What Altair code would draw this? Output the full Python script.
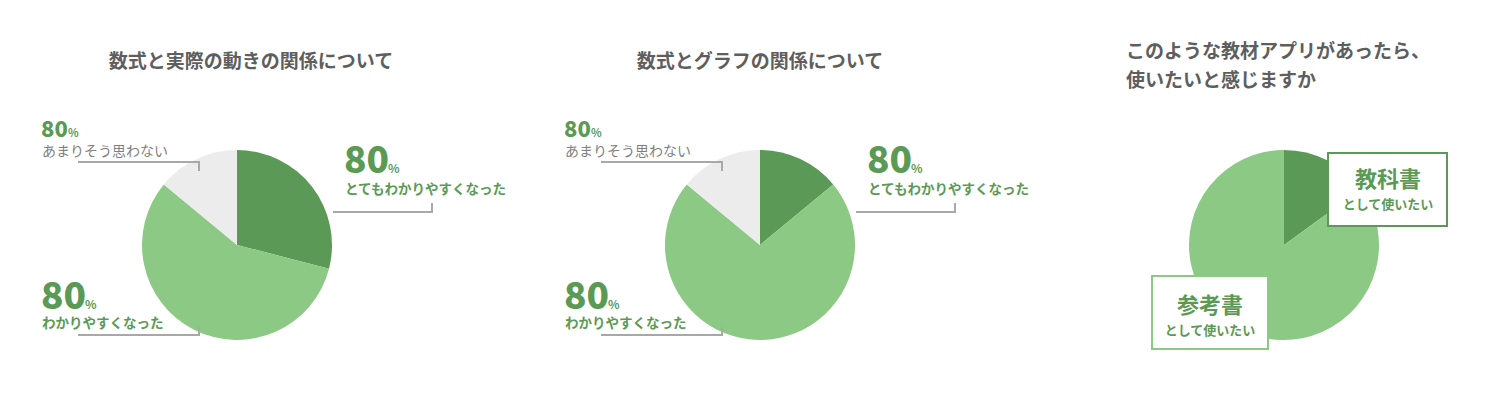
import altair as alt
import pandas as pd

# ---------------- data ----------------
titles = ["数式と実際の動きの関係について", "数式とグラフの関係について"]
title3_lines = ["このような教材アプリがあったら、", "使いたいと感じますか"]
categories12 = ["とてもわかりやすくなった", "わかりやすくなった", "あまりそう思わない"]
shares1 = [29, 57, 14]
shares2 = [14, 72, 14]
categories3 = ["教科書", "参考書"]
shares3 = [15, 85]
label_values = ["80", "80", "80"]  # top-right, bottom-left, top-left labels
percent_sign = "%"
box_sub = "として使いたい"

# ---------------- style ----------------
FONT = "Noto Sans CJK JP"
DARK = "#5b9a56"
LIGHT = "#8cc984"
GREY = "#ececec"
TXT_GREEN = "#5a9a55"
TXT_GREY = "#7f7f7f"
TITLE_C = "#5e5e5e"
LINE_C = "#a8a8a8"
R = 95
OFF = 8  # page margin

color_scale = alt.Scale(
    domain=categories12 + categories3,
    range=[DARK, LIGHT, GREY, DARK, LIGHT],
)


def one(s):
    return pd.DataFrame({"t": [s]})


def pie(cats, vals, cx, cy):
    df = pd.DataFrame({"cat": cats, "val": vals, "idx": list(range(len(cats)))})
    return alt.Chart(df).mark_arc(radius=R, strokeWidth=0).encode(
        theta=alt.Theta("val:Q", stack=True, scale=alt.Scale(domain=[0, sum(vals)])),
        order=alt.Order("idx:Q"),
        color=alt.Color("cat:N", scale=color_scale, legend=None),
        x=alt.value(cx - OFF),
        y=alt.value(cy - OFF),
    )


def txt(s, x, y, size, color, weight="bold", align="left", baseline="middle"):
    return alt.Chart(one(s)).mark_text(
        font=FONT, fontSize=size, fontWeight=weight, color=color,
        align=align, baseline=baseline,
    ).encode(text="t:N", x=alt.value(x - OFF), y=alt.value(y - OFF))


def hline(x1, x2, y, color=LINE_C, w=2):
    return alt.Chart(one("")).mark_rule(color=color, strokeWidth=w).encode(
        x=alt.value(x1 - OFF), x2=alt.value(x2 - OFF), y=alt.value(y - OFF))


def vline(x, y1, y2, color=LINE_C, w=2):
    return alt.Chart(one("")).mark_rule(color=color, strokeWidth=w).encode(
        x=alt.value(x - OFF), y=alt.value(y1 - OFF), y2=alt.value(y2 - OFF))


def box(x1, x2, y1, y2, stroke):
    return alt.Chart(one("")).mark_rect(fill="white", stroke=stroke, strokeWidth=2).encode(
        x=alt.value(x1 - OFF), x2=alt.value(x2 - OFF),
        y=alt.value(y1 - OFF), y2=alt.value(y2 - OFF))


layers = []

# ---- pies 1 and 2 ----
for k, (shares, title, tcx) in enumerate([(shares1, titles[0], 251), (shares2, titles[1], 760)]):
    d = 523 * k
    cx, cy = 237 + d, 245
    layers.append(pie(categories12, shares, cx, cy))
    layers.append(txt(title, tcx, 62, 19, TITLE_C, align="center"))
    # top-right label (とてもわかりやすくなった)
    layers.append(txt(label_values[0], 344 + d, 173, 37, TXT_GREEN, weight=900, baseline="alphabetic"))
    layers.append(txt(percent_sign, 388 + d, 173, 12, TXT_GREEN, baseline="alphabetic"))
    layers.append(txt(categories12[0], 345 + d, 190, 13.5, TXT_GREEN))
    layers.append(hline(333 + d, 433 + d, 212))
    layers.append(vline(432 + d, 203, 213))
    # bottom-left label (わかりやすくなった)
    layers.append(txt(label_values[1], 41 + d, 309, 37, TXT_GREEN, weight=900, baseline="alphabetic"))
    layers.append(txt(percent_sign, 85 + d, 309, 12, TXT_GREEN, baseline="alphabetic"))
    layers.append(txt(categories12[1], 42 + d, 324, 13.5, TXT_GREEN))
    layers.append(hline(78 + d, 200 + d, 335))
    layers.append(vline(199 + d, 327, 336))
    # top-left label (あまりそう思わない)
    layers.append(txt(label_values[2], 41 + d, 137, 22, TXT_GREEN, weight=900, baseline="alphabetic"))
    layers.append(txt(percent_sign, 68 + d, 137, 11, TXT_GREEN, baseline="alphabetic"))
    layers.append(txt(categories12[2], 42 + d, 152, 14, TXT_GREY, weight="normal"))
    layers.append(hline(78 + d, 200 + d, 162))
    layers.append(vline(199 + d, 161, 171))

# ---- pie 3 ----
layers.append(pie(categories3, shares3, 1284, 245))
layers.append(txt(title3_lines[0], 1126, 52, 19, TITLE_C))
layers.append(txt(title3_lines[1], 1126, 81, 19, TITLE_C))
layers.append(box(1328, 1447, 153, 226, DARK))
layers.append(txt(categories3[0], 1388, 180, 22, TXT_GREEN, align="center"))
layers.append(txt(box_sub, 1388, 205, 13, TXT_GREEN, align="center"))
layers.append(box(1152, 1268, 276, 349, LIGHT))
layers.append(txt(categories3[1], 1210, 306, 22, TXT_GREEN, align="center"))
layers.append(txt(box_sub, 1210, 331, 13, TXT_GREEN, align="center"))

chart = alt.layer(*layers).properties(
    width=1490, height=393, padding=0, autosize="none"
).configure_view(stroke=None)

chart.save("out.html", embed_options={"renderer": "svg", "actions": False})
